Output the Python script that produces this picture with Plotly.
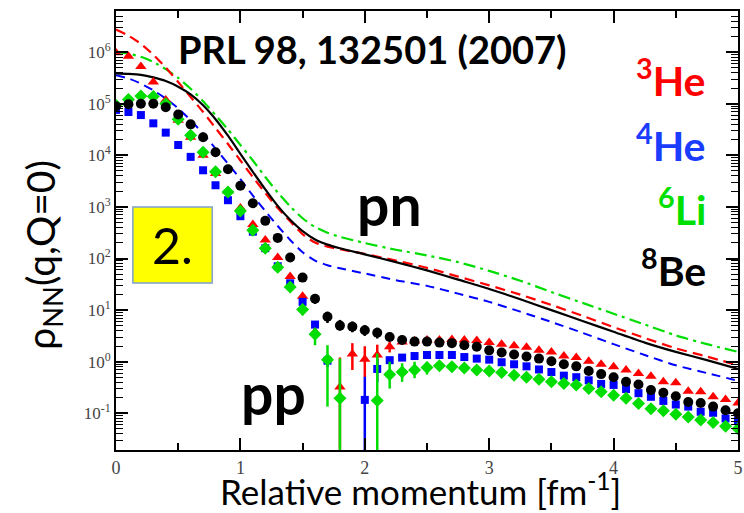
import plotly.graph_objects as go

# ---------------- data ----------------
# relative momentum grid of the pp points [fm^-1]
q = [0.0, 0.1, 0.2, 0.3, 0.4, 0.5, 0.6, 0.7, 0.8, 0.9,
     1.0, 1.1, 1.2, 1.3, 1.4, 1.5, 1.6, 1.7, 1.8, 1.9,
     2.0, 2.1, 2.2, 2.3, 2.4, 2.5, 2.6, 2.7, 2.8, 2.9,
     3.0, 3.1, 3.2, 3.3, 3.4, 3.5, 3.6, 3.7, 3.8, 3.9,
     4.0, 4.1, 4.2, 4.3, 4.4, 4.5, 4.6, 4.7, 4.8, 4.9, 5.0]

# pp densities, log10(rho)
pp_3He_log = [5.99, 5.92, 5.72, 5.42, 5.07, 4.68, 4.35, 4.00, 3.65, 3.31,
              2.98, 2.66, 2.36, 2.02, 1.65, 1.27, 0.57, None, -0.49, 0.15,
              0.05, 0.13, 0.29, 0.38, 0.40, 0.42, 0.42, 0.43, 0.42, 0.41,
              0.37, 0.34, 0.31, 0.28, 0.22, 0.19, 0.11, 0.08, 0.01, -0.05,
              -0.10, -0.16, -0.23, -0.28, -0.39, -0.41, -0.57, -0.58, -0.68, -0.73, -0.80]
pp_4He_log = [4.88, 4.84, 4.78, 4.62, 4.44, 4.20, 3.97, 3.71, 3.42, 3.13,
              2.82, 2.52, 2.20, 1.85, 1.52, 1.16, 0.72, 0.02, None, None,
              -0.74, -0.14, 0.03, 0.08, 0.11, 0.13, 0.13, 0.13, 0.09, 0.06,
              0.04, -0.01, -0.05, -0.09, -0.15, -0.20, -0.27, -0.30, -0.36, -0.43,
              -0.45, -0.53, -0.61, -0.68, -0.76, -0.83, -0.87, -0.97, -0.99, -1.10, -1.15]
pp_6Li_log = [4.97, 5.08, 5.15, 5.14, 5.00, 4.70, 4.39, 4.06, 3.68, 3.29,
              2.92, 2.55, 2.20, 1.83, 1.45, 1.01, 0.53, 0.04, -0.71, None,
              None, -0.75, -0.25, -0.20, -0.16, -0.11, -0.08, -0.10, -0.12, -0.16,
              -0.18, -0.21, -0.26, -0.30, -0.34, -0.39, -0.42, -0.45, -0.52, -0.58,
              -0.65, -0.71, -0.81, -0.91, -0.95, -1.02, -1.07, -1.13, -1.18, -1.25, -1.30]
pp_8Be_log = [4.95, 4.99, 5.00, 5.00, 4.93, 4.79, 4.60, 4.35, 4.06, 3.73,
              3.41, 3.07, 2.73, 2.40, 2.02, 1.63, 1.22, 0.87, 0.70, 0.68,
              0.61, 0.56, 0.48, 0.42, 0.39, 0.39, 0.37, 0.36, 0.32, 0.29,
              0.22, 0.18, 0.14, 0.10, 0.06, 0.01, -0.05, -0.09, -0.18, -0.24,
              -0.30, -0.39, -0.44, -0.55, -0.60, -0.67, -0.78, -0.80, -0.87, -0.94, -1.00]

# error bars: q, log10 upper end, log10 lower end (None = reaches below the axis)
err_3He_q = [1.6, 1.8, 1.9, 2.0, 2.1, 2.2]
err_3He_top = [0.66, 0.08, 0.36, 0.30, 0.33, 0.38]
err_3He_bot = [0.45, None, -0.16, -0.30, -0.15, 0.18]
err_4He_q = [1.7, 2.0, 2.1]
err_4He_top = [0.12, -0.29, 0.05]
err_4He_bot = [-0.10, None, -0.40]
err_6Li_q = [1.5, 1.6, 1.7, 1.8, 2.1, 2.2, 2.3, 2.4, 2.5]
err_6Li_top = [1.12, 0.66, 0.32, 0.06, 0.16, 0.00, -0.03, 0.00, 0.00]
err_6Li_bot = [0.90, 0.32, -0.87, None, None, -0.52, -0.39, -0.32, -0.25]
err_8Be_q = [1.6, 1.7, 1.8, 1.9, 2.0, 2.1, 2.2, 2.3]
err_8Be_top = [1.30, 0.97, 0.81, 0.78, 0.71, 0.66, 0.56, 0.49]
err_8Be_bot = [1.12, 0.75, 0.60, 0.57, 0.50, 0.45, 0.40, 0.35]

# pn curves
curve_q = [0.0, 0.1, 0.2, 0.3, 0.4, 0.5, 0.6, 0.7, 0.8, 0.9, 1.0, 1.1, 1.2, 1.3,
           1.4, 1.5, 1.6, 1.7, 1.8, 2.0, 2.25, 2.5, 2.75, 3.0, 3.25, 3.5, 3.75,
           4.0, 4.25, 4.5, 4.75, 5.0]
pn_3He_log = [6.44, 6.32, 6.16, 5.95, 5.70, 5.42, 5.13, 4.84, 4.53, 4.22, 3.90, 3.58,
              3.27, 2.98, 2.72, 2.47, 2.31, 2.23, 2.18, 2.09, 1.96, 1.82, 1.65, 1.48,
              1.30, 1.10, 0.89, 0.67, 0.46, 0.26, 0.10, -0.07]
pn_4He_log = [5.55, 5.49, 5.39, 5.26, 5.10, 4.91, 4.68, 4.42, 4.13, 3.84, 3.54, 3.22,
              2.92, 2.63, 2.36, 2.12, 1.96, 1.87, 1.81, 1.71, 1.58, 1.47, 1.32, 1.16,
              0.97, 0.77, 0.56, 0.34, 0.13, -0.07, -0.22, -0.37]
pn_6Li_log = [6.00, 5.97, 5.91, 5.81, 5.67, 5.50, 5.29, 5.05, 4.78, 4.50, 4.20, 3.90,
              3.58, 3.28, 3.01, 2.78, 2.61, 2.50, 2.42, 2.30, 2.17, 2.06, 1.93, 1.76,
              1.57, 1.35, 1.14, 0.93, 0.72, 0.51, 0.34, 0.19]
pn_8Be_log = [5.59, 5.58, 5.56, 5.51, 5.44, 5.33, 5.18, 4.97, 4.70, 4.38, 4.03, 3.68,
              3.34, 3.02, 2.75, 2.53, 2.37, 2.27, 2.20, 2.08, 1.93, 1.77, 1.59, 1.41,
              1.21, 1.00, 0.79, 0.58, 0.37, 0.19, 0.03, -0.14]

x_tick_vals = [0, 1, 2, 3, 4, 5]
y_tick_vals = [0.1, 1, 10, 100, 1000, 1e4, 1e5, 1e6]
y_tick_text = ["10<sup>-1</sup>", "10<sup>0</sup>", "10<sup>1</sup>", "10<sup>2</sup>",
               "10<sup>3</sup>", "10<sup>4</sup>", "10<sup>5</sup>", "10<sup>6</sup>"]

RED, BLUE, GREEN, BLACK = "#ff0000", "#0000ff", "#00dd00", "#000000"


def lin(lst):
    return [None if v is None else 10 ** v for v in lst]


def err_arrays(vals_log, eq, etop, ebot):
    plus = [0.0] * len(q)
    minus = [0.0] * len(q)
    for qq, t, b in zip(eq, etop, ebot):
        i = int(round(qq * 10))
        v = 10 ** vals_log[i]
        plus[i] = 10 ** t - v
        minus[i] = (v - 10 ** b) if b is not None else 2 * v
    return plus, minus


fig = go.Figure()

# pn curves
for vals, col, dash, w in [
    (pn_6Li_log, GREEN, "12px,5px,3px,5px", 2.2),
    (pn_3He_log, RED, "10px,6px", 2.2),
    (pn_4He_log, BLUE, "9px,6px", 2.0),
    (pn_8Be_log, BLACK, "solid", 2.2),
]:
    fig.add_trace(go.Scatter(x=curve_q, y=lin(vals), mode="lines",
                             line=dict(color=col, dash=dash, width=w, shape="spline", smoothing=0.6),
                             showlegend=False, hoverinfo="skip"))

# pp points
for vals, eq, et, eb, col, sym, size in [
    (pp_3He_log, err_3He_q, err_3He_top, err_3He_bot, RED, "triangle-up", 10),
    (pp_4He_log, err_4He_q, err_4He_top, err_4He_bot, BLUE, "square", 8),
    (pp_6Li_log, err_6Li_q, err_6Li_top, err_6Li_bot, GREEN, "diamond", 10),
    (pp_8Be_log, err_8Be_q, err_8Be_top, err_8Be_bot, BLACK, "circle", 10),
]:
    plus, minus = err_arrays(vals, eq, et, eb)
    fig.add_trace(go.Scatter(x=q, y=lin(vals), mode="markers",
                             marker=dict(color=col, symbol=sym, size=size, line=dict(width=0)),
                             error_y=dict(type="data", array=plus, arrayminus=minus, symmetric=False,
                                          color=col, thickness=2.5, width=0),
                             showlegend=False, hoverinfo="skip"))

minor_y = [m * 10 ** e for e in range(-2, 7) for m in range(2, 10)]

fig.update_xaxes(range=[0, 5], tickvals=x_tick_vals, ticks="inside", ticklen=12, tickwidth=1.5,
                 tickcolor="black", showline=True, linewidth=2, linecolor="black", mirror="ticks",
                 showgrid=False, zeroline=False, ticklabeloverflow="allow",
                 tickfont=dict(family="Liberation Serif", size=18, color="#444444"),
                 minor=dict(dtick=0.5, ticks="inside", ticklen=7, tickwidth=1.5, tickcolor="black",
                            showgrid=False))
fig.update_yaxes(type="log", range=[-1.711, 6.797], tickvals=y_tick_vals, ticktext=y_tick_text,
                 ticks="inside", ticklen=12, tickwidth=1.5, tickcolor="black", showline=True,
                 linewidth=2, linecolor="black", mirror="ticks", showgrid=False, zeroline=False,
                 tickfont=dict(family="Liberation Serif", size=17, color="#444444"),
                 minor=dict(tickvals=minor_y, ticks="inside", ticklen=7, tickwidth=1.2,
                            tickcolor="black", showgrid=False))

SANS = "Lato"
ann = []
ann.append(dict(text="Relative momentum [fm<sup>-1</sup>]", x=0.49, y=-0.089, xref="paper", yref="paper",
                showarrow=False, xanchor="center", yanchor="middle",
                font=dict(family=SANS, size=35, color="black")))
ann.append(dict(text="ρ<sub>NN</sub>(q,Q=0)", x=-0.118, y=0.444, xref="paper", yref="paper",
                showarrow=False, textangle=-90, xanchor="center", yanchor="middle",
                font=dict(family=SANS, size=39, color="black")))
ann.append(dict(text="<b>PRL 98, 132501 (2007)</b>", x=0.413, y=0.913, xref="paper", yref="paper",
                showarrow=False, xanchor="center", yanchor="middle",
                font=dict(family=SANS, size=38, color="black")))
ann.append(dict(text="<b>pn</b>", x=0.440, y=0.56, xref="paper", yref="paper",
                showarrow=False, xanchor="center", yanchor="middle",
                font=dict(family=SANS, size=57, color="black")))
ann.append(dict(text="<b>pp</b>", x=0.2536, y=0.13, xref="paper", yref="paper",
                showarrow=False, xanchor="center", yanchor="middle",
                font=dict(family=SANS, size=57, color="black")))
for txt, col, yy in [("<b><sup>3</sup>He</b>", RED, 0.847),
                     ("<b><sup>4</sup>He</b>", "#1a3cff", 0.699),
                     ("<b><sup>6</sup>Li</b>", "#00e000", 0.5535),
                     ("<b><sup>8</sup>Be</b>", BLACK, 0.4146)]:
    ann.append(dict(text=txt, x=0.952, y=yy, xref="paper", yref="paper", showarrow=False,
                    xanchor="right", yanchor="middle", font=dict(family=SANS, size=41, color=col)))
ann.append(dict(text="2.", x=0.091, y=0.467, xref="paper", yref="paper", showarrow=False,
                xanchor="center", yanchor="middle", font=dict(family=SANS, size=50, color="black")))

fig.update_layout(
    width=744, height=513,
    margin=dict(l=116, r=1, t=11, b=63),
    paper_bgcolor="white", plot_bgcolor="white",
    annotations=ann,
    shapes=[dict(type="rect", xref="paper", yref="paper", x0=0.0271, x1=0.1547, y0=0.3804, y1=0.5535,
                 fillcolor="#ffff00", line=dict(color="#7f9fcf", width=1.5), layer="below")],
)

fig.write_html("out.html")
